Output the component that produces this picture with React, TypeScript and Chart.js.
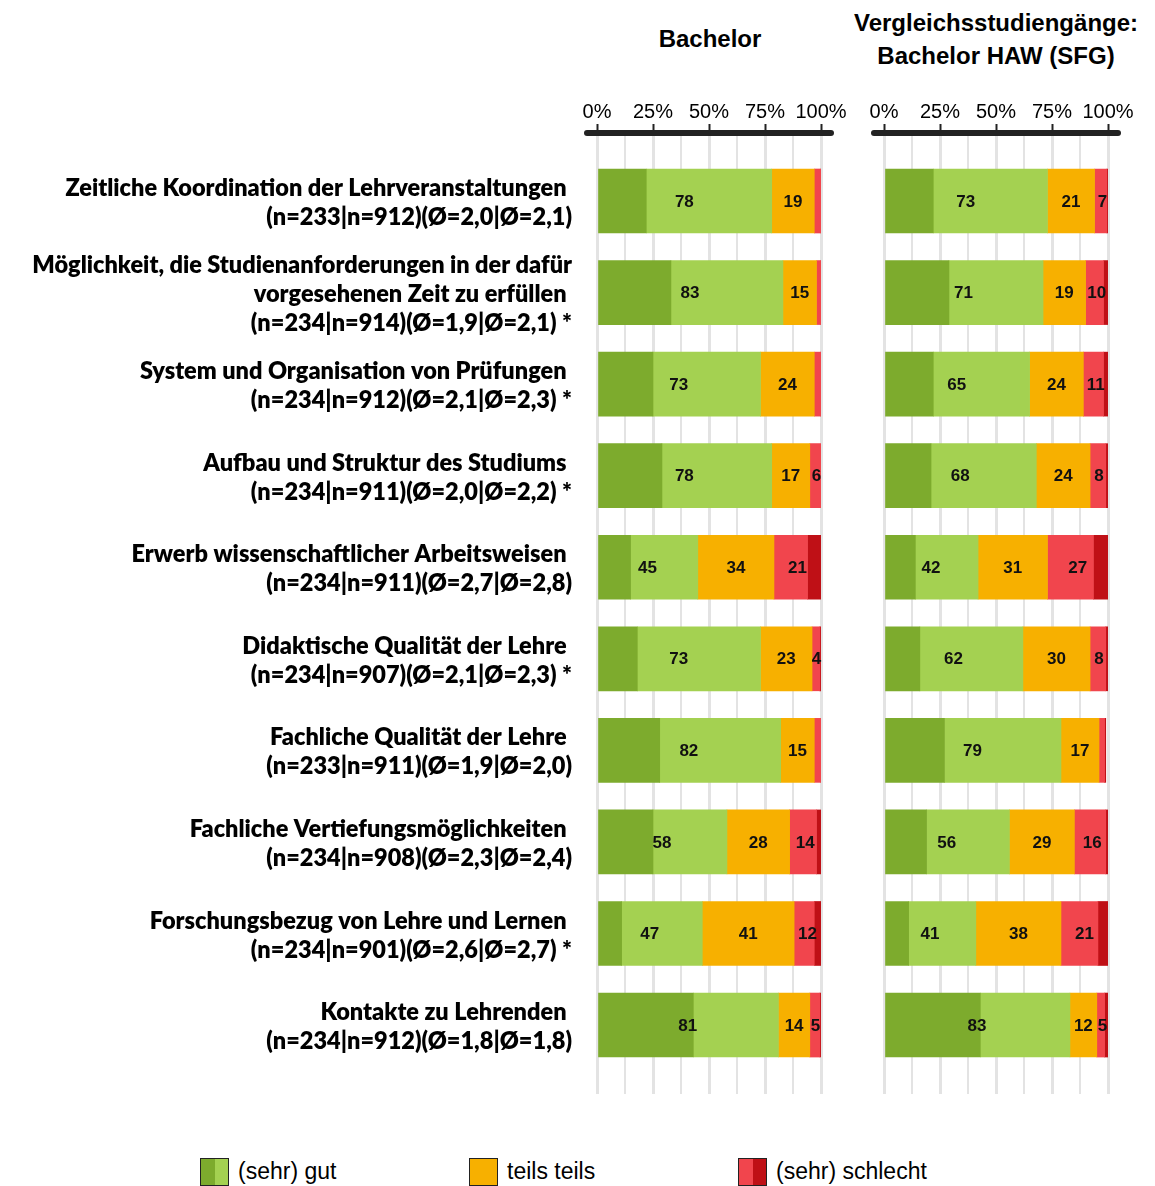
import React, { useEffect, useRef } from "react";
import { Chart, registerables } from "chart.js";

Chart.register(...registerables);

// ---------- data ----------
const categoryLabels: string[][] = [
  ["Zeitliche Koordination der Lehrveranstaltungen ", "(n=233|n=912)(Ø=2,0|Ø=2,1)"],
  ["Möglichkeit, die Studienanforderungen in der dafür", "vorgesehenen Zeit zu erfüllen ", "(n=234|n=914)(Ø=1,9|Ø=2,1) *"],
  ["System und Organisation von Prüfungen ", "(n=234|n=912)(Ø=2,1|Ø=2,3) *"],
  ["Aufbau und Struktur des Studiums ", "(n=234|n=911)(Ø=2,0|Ø=2,2) *"],
  ["Erwerb wissenschaftlicher Arbeitsweisen ", "(n=234|n=911)(Ø=2,7|Ø=2,8)"],
  ["Didaktische Qualität der Lehre ", "(n=234|n=907)(Ø=2,1|Ø=2,3) *"],
  ["Fachliche Qualität der Lehre ", "(n=233|n=911)(Ø=1,9|Ø=2,0)"],
  ["Fachliche Vertiefungsmöglichkeiten ", "(n=234|n=908)(Ø=2,3|Ø=2,4)"],
  ["Forschungsbezug von Lehre und Lernen ", "(n=234|n=901)(Ø=2,6|Ø=2,7) *"],
  ["Kontakte zu Lehrenden ", "(n=234|n=912)(Ø=1,8|Ø=1,8)"],
];

const panelTitles = ["Bachelor", "Vergleichsstudiengänge:\nBachelor HAW (SFG)"];
const legendLabels = ["(sehr) gut", "teils teils", "(sehr) schlecht"];
const xTickValues = [0, 25, 50, 75, 100];

// Bachelor
const bachGoodTotal = [78, 83, 73, 78, 45, 73, 82, 58, 47, 81];
const bachVeryGood = [22, 33, 25, 29, 15, 18, 28, 25, 11, 43];
const bachNeutral = [19, 15, 24, 17, 34, 23, 15, 28, 41, 14];
const bachBadTotal = [3, 2, 3, 6, 21, 4, 3, 14, 12, 5];
const bachVeryBad = [0, 0, 0, 0.5, 6, 0.5, 0, 2, 3, 0.5];

// Vergleichsstudiengänge (SFG)
const sfgGoodTotal = [73, 71, 65, 68, 42, 62, 79, 56, 41, 83];
const sfgVeryGood = [22, 29, 22, 21, 14, 16, 27, 19, 11, 43];
const sfgNeutral = [21, 19, 24, 24, 31, 30, 17, 29, 38, 12];
const sfgBadTotal = [7, 10, 11, 8, 27, 8, 3, 16, 21, 5];
const sfgVeryBad = [1.5, 2, 2, 1, 6.5, 1, 0.5, 2, 4.5, 1.5];

// ---------- styles ----------
const C_VGOOD = "#7DAB2D";
const C_GOOD = "#A4D151";
const C_NEUTRAL = "#F7B000";
const C_BAD = "#F1454D";
const C_VBAD = "#BF1016";

const LABEL_FONT = "Lato";
const SANS = "'Liberation Sans', Arial, sans-serif";

const CHART_TOP = 133;
const CHART_BOTTOM = 1094;
const CANVAS_H = 1110;
const FIRST_CENTER = 201;
const BAND = 91.56;

const yMin = -(FIRST_CENTER - CHART_TOP) / BAND;
const yMax = categoryLabels.length - 1 + (CHART_BOTTOM - (FIRST_CENTER + BAND * (categoryLabels.length - 1))) / BAND;

const axisLinePlugin = {
  id: "axisLine",
  afterDraw(chart: any) {
    const { ctx, chartArea } = chart;
    ctx.save();
    ctx.strokeStyle = "#222222";
    ctx.lineWidth = 6;
    ctx.lineCap = "round";
    ctx.beginPath();
    ctx.moveTo(chartArea.left - 10, chartArea.top);
    ctx.lineTo(chartArea.right + 10, chartArea.top);
    ctx.stroke();
    ctx.restore();
  },
};

function makeValueLabelPlugin(goodT: number[], neutral: number[], badT: number[]) {
  return {
    id: "valueLabels",
    afterDatasetsDraw(chart: any) {
      const { ctx } = chart;
      const xs = chart.scales.x;
      const ys = chart.scales.y;
      ctx.save();
      ctx.font = "bold 17px " + SANS;
      ctx.fillStyle = "#111111";
      ctx.textAlign = "center";
      ctx.textBaseline = "middle";
      goodT.forEach((g, i) => {
        const y = ys.getPixelForValue(i) + 1;
        const groups = [
          { start: 0, v: g },
          { start: g, v: neutral[i] },
          { start: g + neutral[i], v: badT[i] },
        ];
        groups.forEach((grp) => {
          if (grp.v < 4) return;
          const x = xs.getPixelForValue(grp.start + grp.v / 2);
          ctx.fillText(String(Math.round(grp.v)), x, y);
        });
      });
      ctx.restore();
    },
  };
}

function buildConfig(
  veryGood: number[],
  goodTotal: number[],
  neutral: number[],
  badTotal: number[],
  veryBad: number[],
  showY: boolean,
  padLeft: number,
  padRight: number,
  yWidth: number
): any {
  const pts = (arr: number[]) => arr.map((v, i) => ({ x: v, y: i }));
  const good = goodTotal.map((g, i) => g - veryGood[i]);
  const bad = badTotal.map((b, i) => b - veryBad[i]);
  const ds = (data: number[], color: string) => ({
    data: pts(data),
    backgroundColor: color,
    borderWidth: 0,
    barThickness: 64,
  });
  return {
    type: "bar",
    data: {
      datasets: [
        ds(veryGood, C_VGOOD),
        ds(good, C_GOOD),
        ds(neutral, C_NEUTRAL),
        ds(bad, C_BAD),
        ds(veryBad, C_VBAD),
      ],
    },
    options: {
      indexAxis: "y",
      animation: false,
      responsive: false,
      devicePixelRatio: 1,
      layout: { padding: { left: padLeft, right: padRight, top: 0, bottom: CANVAS_H - CHART_BOTTOM } },
      plugins: {
        legend: { display: false },
        tooltip: { enabled: false },
        title: { display: false },
      },
      scales: {
        x: {
          type: "linear",
          position: "top",
          stacked: true,
          min: 0,
          max: 100,
          afterFit: (s: any) => {
            s.height = CHART_TOP;
          },
          afterBuildTicks: (s: any) => {
            const t: any[] = [];
            for (let v = 0; v <= 100; v += 12.5) t.push({ value: v });
            s.ticks = t;
          },
          border: { display: false },
          grid: {
            color: "#e3e3e3",
            lineWidth: (c: any) => (c.tick && xTickValues.includes(c.tick.value) ? 3 : 2),
            drawTicks: true,
            tickLength: 9,
            tickWidth: 2,
            tickColor: (c: any) => (c.tick && xTickValues.includes(c.tick.value) ? "#222222" : "rgba(0,0,0,0)"),
          },
          ticks: {
            autoSkip: false,
            maxRotation: 0,
            padding: 0,
            color: "#000000",
            font: { family: SANS, size: 20 },
            callback: (v: any) => (xTickValues.includes(Number(v)) ? v + "%" : ""),
          },
        },
        y: {
          type: "linear",
          stacked: true,
          reverse: true,
          offset: false,
          min: yMin,
          max: yMax,
          display: showY,
          afterFit: (s: any) => {
            s.width = yWidth;
            s.paddingTop = 0;
            s.paddingBottom = 0;
          },
          afterBuildTicks: (s: any) => {
            s.ticks = categoryLabels.map((_, i) => ({ value: i }));
          },
          border: { display: false },
          grid: { display: false },
          ticks: {
            autoSkip: false,
            padding: 17,
            labelOffset: 2,
            color: "#000000",
            font: { family: LABEL_FONT, size: 23.5, weight: "800", lineHeight: 29 / 23.5 },
            callback: (_v: any, idx: number) => categoryLabels[idx],
          },
        },
      },
    },
    plugins: [axisLinePlugin, makeValueLabelPlugin(goodTotal, neutral, badTotal)],
  };
}

function ChartCanvas(props: { config: () => any; left: number; width: number }) {
  const ref = useRef<HTMLCanvasElement | null>(null);
  useEffect(() => {
    if (!ref.current) return;
    const chart = new Chart(ref.current, props.config());
    return () => chart.destroy();
  }, []);
  return (
    <canvas
      ref={ref}
      width={props.width}
      height={CANVAS_H}
      style={{ position: "absolute", left: props.left, top: 0, width: props.width, height: CANVAS_H }}
    />
  );
}

function LegendBox(props: { colors: string[] }) {
  return (
    <div
      style={{
        width: 27,
        height: 26,
        border: "1.5px solid #222",
        display: "flex",
        boxSizing: "content-box",
      }}
    >
      {props.colors.map((c, i) => (
        <div key={i} style={{ flex: 1, background: c }} />
      ))}
    </div>
  );
}

export default function App() {
  const legendItems = [
    { colors: [C_VGOOD, C_GOOD], label: legendLabels[0], left: 200 },
    { colors: [C_NEUTRAL], label: legendLabels[1], left: 469 },
    { colors: [C_BAD, C_VBAD], label: legendLabels[2], left: 738 },
  ];
  const titleStyle: React.CSSProperties = {
    position: "absolute",
    fontFamily: SANS,
    fontWeight: "bold",
    fontSize: 24,
    color: "#000",
    textAlign: "center",
    whiteSpace: "pre",
    lineHeight: "33px",
    transform: "translateX(-50%)",
  };
  return (
    <div style={{ position: "absolute", left: 0, top: 0, width: 1155, height: 1186, background: "#fff", overflow: "hidden" }}>
      <div style={{ ...titleStyle, left: 710, top: 22 }}>{panelTitles[0]}</div>
      <div style={{ ...titleStyle, left: 996, top: 6 }}>{panelTitles[1]}</div>
      <ChartCanvas
        left={0}
        width={860}
        config={() =>
          buildConfig(bachVeryGood, bachGoodTotal, bachNeutral, bachBadTotal, bachVeryBad, true, 0, 39, 597)
        }
      />
      <ChartCanvas
        left={860}
        width={295}
        config={() => buildConfig(sfgVeryGood, sfgGoodTotal, sfgNeutral, sfgBadTotal, sfgVeryBad, false, 24, 47, 0)}
      />
      {legendItems.map((it, i) => (
        <div
          key={i}
          style={{ position: "absolute", left: it.left, top: 1157, display: "flex", alignItems: "center" }}
        >
          <LegendBox colors={it.colors} />
          <span style={{ marginLeft: 9, fontFamily: SANS, fontSize: 23, color: "#000", lineHeight: "29px" }}>
            {it.label}
          </span>
        </div>
      ))}
    </div>
  );
}
